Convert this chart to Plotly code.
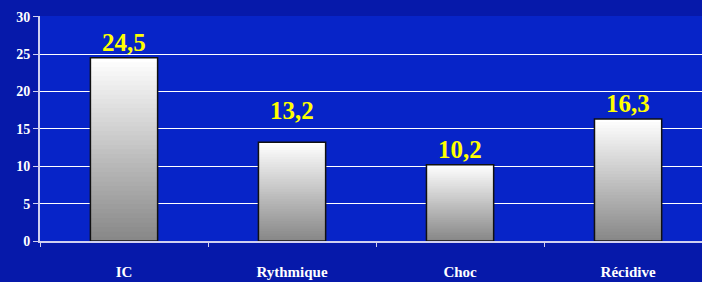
import plotly.graph_objects as go

categories = ["IC", "Rythmique", "Choc", "Récidive"]
values = [24.5, 13.2, 10.2, 16.3]
labels = ["24,5", "13,2", "10,2", "16,3"]
y_ticks = [0, 5, 10, 15, 20, 25, 30]

# extra vertical offset (px) of each value label, as in the original slide
label_shift = [0, 16, 0, 0]

N = 40
fig = go.Figure()
# gradient bars: white at top, grey at bottom (each layer runs up to the top, drawn over the previous)
for k in range(N):
    t = k / (N - 1)
    g = int(136 + (255 - 136) * t)
    col = f"rgb({g},{g},{g})"
    fig.add_trace(go.Bar(
        x=categories,
        y=[v * (N - k) / N for v in values],
        base=[v * k / N for v in values],
        marker=dict(color=col, line=dict(width=0)),
        width=0.4, hoverinfo="skip", showlegend=False,
    ))
# outline
fig.add_trace(go.Bar(
    x=categories, y=values,
    marker=dict(color="rgba(0,0,0,0)", line=dict(color="#111111", width=1.5)),
    width=0.4, showlegend=False,
))
# value labels
for c, v, lab, s in zip(categories, values, labels, label_shift):
    fig.add_annotation(
        x=c, y=v, text=lab, showarrow=False, yanchor="bottom", yshift=0 + s,
        font=dict(family="Liberation Serif", size=25, color="#ffff00", weight="bold"),
    )

fig.update_layout(
    width=702, height=282,
    margin=dict(l=40, r=0, t=16, b=41),
    barmode="overlay",
    paper_bgcolor="#0619aa",
    plot_bgcolor="#0724c8",
    font=dict(family="Liberation Serif", color="white", size=14, weight="bold"),
    xaxis=dict(
        range=[-0.5, 3.44], tickson="boundaries", ticks="outside", ticklen=4,
        tickcolor="#d0d0f0", showline=True, linecolor="#d0d0f0", linewidth=2,
        showgrid=False, ticklabelstandoff=16,
        tickfont=dict(family="Liberation Serif", size=15, color="white", weight="bold"),
    ),
    yaxis=dict(
        range=[0, 30.08], tickvals=y_ticks, ticks="outside", ticklen=5,
        tickcolor="#d0d0f0", showline=True, linecolor="#d0d0f0", linewidth=2,
        gridcolor="white", gridwidth=1, zeroline=False,
        tickfont=dict(family="Liberation Serif", size=14, color="white", weight="bold"),
    ),
)

fig.write_html("out.html", config={"displayModeBar": False})
with open("out.html", "r", encoding="utf-8") as f:
    html = f.read()
html = html.replace("<head>", "<head><style>html,body{margin:0;padding:0;overflow:hidden;}</style>", 1)
with open("out.html", "w", encoding="utf-8") as f:
    f.write(html)
